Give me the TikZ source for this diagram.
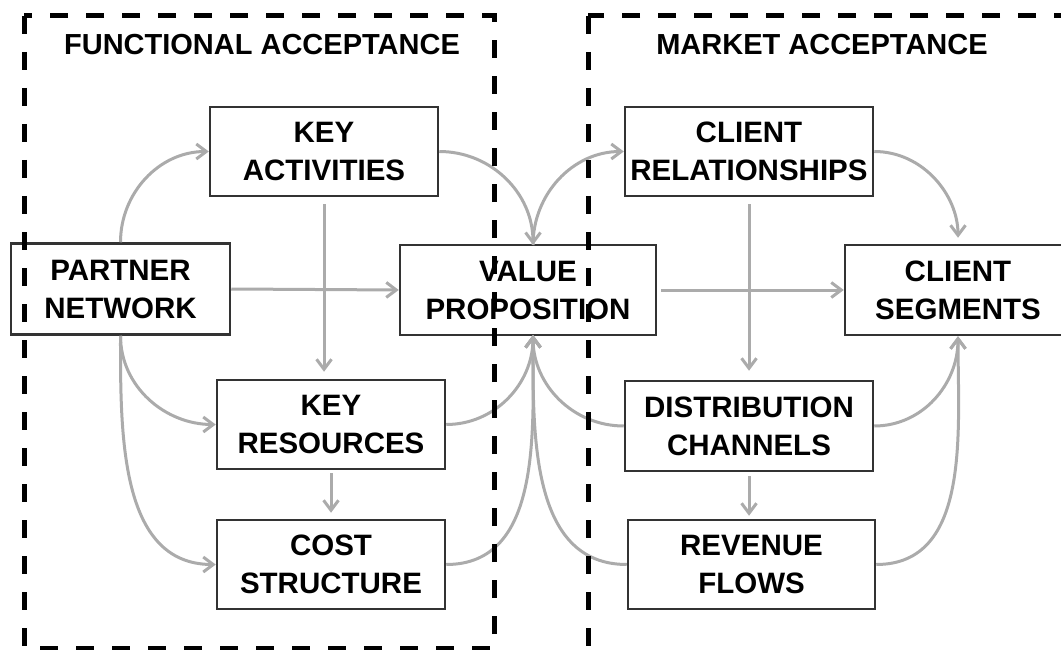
\documentclass[tikz,border=0pt]{standalone}
\usepackage{fontspec}
\setmainfont{Liberation Sans}
\usetikzlibrary{arrows.meta}
\definecolor{flowgray}{HTML}{ABABAB}
\definecolor{boxline}{HTML}{333333}
\begin{document}
\begin{tikzpicture}[x=1pt,y=1pt,
		box/.style={draw=boxline,line width=2.5pt,align=center,inner sep=0pt,
			font=\fontsize{29.5}{38}\selectfont\bfseries},
		flow/.style={draw=flowgray,line width=3pt,-{Straight Barb[length=10pt,width=15pt]}},
		zone/.style={draw=black,line width=5pt,dash pattern=on 18pt off 18pt},
		zonetitle/.style={font=\fontsize{29}{34}\selectfont\bfseries}]
	\useasboundingbox (0,0) rectangle (1061,-650);
	\clip (0,0) rectangle (1061,-650);
	\node[zonetitle] (ftitle) at (262,-45) {FUNCTIONAL ACCEPTANCE};
	\node[zonetitle] (mtitle) at (822,-45) {MARKET ACCEPTANCE};
	\node[box,minimum width=219pt,minimum height=91pt] (pn) at (120.5,-289) {PARTNER\\NETWORK};
	\node[box,minimum width=228pt,minimum height=89pt] (ka) at (324,-151.5) {KEY\\ACTIVITIES};
	\node[box,minimum width=228pt,minimum height=89pt] (kr) at (331,-424.5) {KEY\\RESOURCES};
	\node[box,minimum width=228pt,minimum height=89pt] (cost) at (331,-564.5) {COST\\STRUCTURE};
	\node[box,minimum width=256pt,minimum height=90pt] (vp) at (528,-290) {VALUE\\PROPOSITION};
	\node[box,minimum width=248pt,minimum height=89pt] (cr) at (749,-151.5) {CLIENT\\RELATIONSHIPS};
	\node[box,minimum width=248pt,minimum height=90pt] (dc) at (749,-426) {DISTRIBUTION\\CHANNELS};
	\node[box,minimum width=247pt,minimum height=89pt] (rf) at (751.5,-564.5) {REVENUE\\FLOWS};
	\node[box,minimum width=226pt,minimum height=90pt] (cs) at (958,-290) {CLIENT\\SEGMENTS};
	\coordinate (vptop) at (533,-245);
	\coordinate (vpbot) at (533,-335);
	\draw[flow] (pn.north) to[out=90,in=180] (ka.west);
	\draw[flow] (pn.east) -- (vp.west);
	\draw[flow] (pn.south) to[out=-90,in=180] (kr.west);
	\draw[flow] (pn.south) to[out=-90,in=180] (cost.west);
	\draw[flow,shorten <=7pt,shorten >=7pt] (ka.south) -- (ka.south |- kr.north);
	\draw[flow,shorten <=3pt,shorten >=6pt] (kr.south) -- (kr.south |- cost.north);
	\draw[flow] (ka.east) to[out=0,in=90] (vptop);
	\draw[flow] (vptop) to[out=90,in=180] (cr.west);
	\draw[flow] (kr.east) to[out=0,in=-90] (vpbot);
	\draw[flow] (cost.east) to[out=0,in=-90] (vpbot);
	\draw[flow] (dc.west) to[out=180,in=-90] (vpbot);
	\draw[flow] (rf.west) to[out=180,in=-90] (vpbot);
	\draw[flow,shorten <=4pt] (vp.east) -- (cs.west);
	\draw[flow,shorten <=7pt,shorten >=9pt] (cr.south) -- (cr.south |- dc.north);
	\draw[flow,shorten <=4pt,shorten >=3pt] (dc.south) -- (dc.south |- rf.north);
	\draw[flow,shorten >=6pt] (cr.east) to[out=0,in=90] (cs.north);
	\draw[flow] (dc.east) to[out=0,in=-90] (cs.south);
	\draw[flow] (rf.east) to[out=0,in=-90] (cs.south);
	\draw[zone] (24,-16) rectangle (494,-648);
	\draw[zone] (588,-16) rectangle (1100,-700);
\end{tikzpicture}
\end{document}
